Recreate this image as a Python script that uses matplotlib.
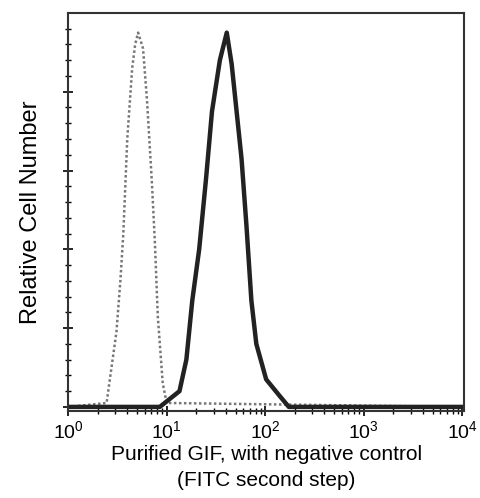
import matplotlib
matplotlib.use("Agg")
import matplotlib.pyplot as plt
from matplotlib.ticker import LogLocator, FixedLocator, NullFormatter

plt.rcParams['font.family'] = ['Liberation Sans', 'DejaVu Sans']

# control (grey, dotted) histogram: log10 intensity, relative count
ctrl_log = [0.0, 0.39, 0.44, 0.49, 0.53, 0.56, 0.60, 0.65, 0.68, 0.71, 0.76, 0.80, 0.85, 0.88, 0.91, 0.96, 1.00, 4.0]
ctrl_h   = [0.0, 0.01, 0.10, 0.19, 0.32, 0.44, 0.68, 0.86, 0.92, 0.95, 0.91, 0.78, 0.57, 0.42, 0.23, 0.06, 0.01, 0.0]
# GIF stained (black) histogram
gif_log = [0.0, 0.93, 1.03, 1.13, 1.20, 1.26, 1.33, 1.40, 1.46, 1.54, 1.61, 1.66, 1.71, 1.76, 1.81, 1.86, 1.91, 2.01, 2.14, 2.24, 4.0]
gif_h   = [0.0, 0.00, 0.02, 0.04, 0.12, 0.27, 0.40, 0.58, 0.75, 0.88, 0.95, 0.87, 0.75, 0.63, 0.46, 0.27, 0.16, 0.07, 0.03, 0.00, 0.0]

fig = plt.figure(figsize=(4.8, 4.98), dpi=100)
ax = fig.add_axes([0.142, 0.175, 0.825, 0.799])
ax.plot([10**v for v in ctrl_log], ctrl_h, color='#777777', lw=1.8, ls=(0, (1, 1)))
ax.plot([10**v for v in gif_log], gif_h, color='#222222', lw=3.2)
ax.set_xscale('log')
ax.set_xlim(1, 10**4.02)
ax.set_ylim(-0.01, 1.0)
ax.xaxis.set_major_locator(LogLocator(base=10, numticks=10))
ax.xaxis.set_minor_locator(LogLocator(base=10, subs=range(2, 10), numticks=10))
ax.xaxis.set_minor_formatter(NullFormatter())
ax.yaxis.set_major_locator(FixedLocator([0, 0.2, 0.4, 0.6, 0.8]))
ax.yaxis.set_minor_locator(FixedLocator([i * 0.04 for i in range(25)]))
ax.set_yticklabels([])
ax.tick_params(axis='both', which='major', direction='inout', length=7, width=1.2, labelsize=14)
ax.tick_params(axis='both', which='minor', direction='inout', length=4, width=1)
for s in ax.spines.values():
    s.set_linewidth(1.5)
    s.set_color('#333333')
ax.set_xlabel('Purified GIF, with negative control\n(FITC second step)', fontsize=15, linespacing=1.45, labelpad=2)
ax.set_ylabel('Relative Cell Number', fontsize=17, labelpad=12)
fig.savefig('out.png', dpi=100)
